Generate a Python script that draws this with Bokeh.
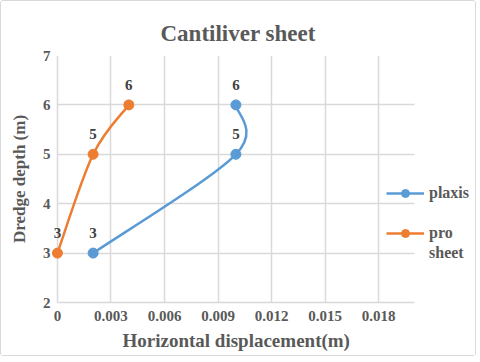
import numpy as np
from bokeh.plotting import figure
from bokeh.models import (FixedTicker, ColumnDataSource, LabelSet, Legend, LegendItem,
                          Range1d, CustomJSTickFormatter, Title)
from bokeh.embed import file_html
from bokeh.resources import INLINE

# Data
plaxis_x = [0.002, 0.010, 0.010]
plaxis_y = [3, 5, 6]
prosheet_x = [0.0, 0.002, 0.004]
prosheet_y = [3, 5, 6]
x_ticks = [0, 0.003, 0.006, 0.009, 0.012, 0.015, 0.018]
y_ticks = [2, 3, 4, 5, 6, 7]
x_axis_span = (0, 0.02)
series_names = ["plaxis", "pro sheet"]

BLUE = "#5B9BD5"
ORANGE = "#ED7D31"
GRID = "#D9D9D9"
TXT = "#595959"
FONT = "Liberation Serif"


def smooth_segments(xs, ys):
    """Excel-like smoothing: bezier control points from neighbouring data points."""
    n = len(xs)
    px = [xs[0]] + list(xs) + [xs[-1]]
    py = [ys[0]] + list(ys) + [ys[-1]]
    d = dict(x0=[], y0=[], x1=[], y1=[], cx0=[], cy0=[], cx1=[], cy1=[])
    for i in range(1, n):
        p0x, p0y = px[i - 1], py[i - 1]
        p1x, p1y = px[i], py[i]
        p2x, p2y = px[i + 1], py[i + 1]
        p3x, p3y = px[i + 2], py[i + 2]
        d["x0"].append(p1x); d["y0"].append(p1y)
        d["x1"].append(p2x); d["y1"].append(p2y)
        d["cx0"].append(p1x + (p2x - p0x) / 6); d["cy0"].append(p1y + (p2y - p0y) / 6)
        d["cx1"].append(p2x - (p3x - p1x) / 6); d["cy1"].append(p2y - (p3y - p1y) / 6)
    return d


p = figure(output_backend="svg", toolbar_location=None,
           x_range=Range1d(-0.0005, 0.0232), y_range=Range1d(2, 7),
           frame_width=423, frame_height=247,
           min_border_left=47, min_border_right=4, min_border_top=54, min_border_bottom=52)

p.title.text = "Cantiliver sheet"
p.title.align = "left"
p.title.text_font = FONT
p.title.text_font_size = "23px"
p.title.text_font_style = "bold"
p.title.text_color = TXT
p.title.offset = 112
p.title.standoff = 19

p.outline_line_color = None
p.background_fill_color = "white"
p.border_fill_color = "white"
p.styles = {"border": "1px solid #D9D9D9", "border-radius": "3px"}

for ax in (p.xaxis[0], p.yaxis[0]):
    ax.major_tick_line_color = None
    ax.minor_tick_line_color = None
    ax.major_label_text_font = FONT
    ax.major_label_text_font_size = "15px"
    ax.major_label_text_font_style = "bold"
    ax.major_label_text_color = TXT
    ax.axis_label_text_font = FONT
    ax.axis_label_text_font_style = "bold"
    ax.axis_label_text_color = TXT

p.yaxis.axis_label_text_font_size = "17px"
p.xaxis.axis_line_color = GRID
p.xaxis.axis_line_width = 1.5
p.xaxis.bounds = x_axis_span
p.yaxis.axis_line_color = None

p.xaxis.ticker = FixedTicker(ticks=x_ticks)
p.yaxis.ticker = FixedTicker(ticks=y_ticks)
p.xaxis.formatter = CustomJSTickFormatter(code="return tick === 0 ? '0' : tick.toFixed(3);")
p.xaxis.major_label_standoff = 2
p.yaxis.major_label_standoff = -8
p.yaxis.axis_label = "Dredge depth (m)"
p.yaxis.axis_label_standoff = 11

xlabel = Title(text="Horizontal displacement(m)", align="left", offset=74,
               text_font=FONT, text_font_size="19px", text_font_style="bold",
               text_color=TXT, standoff=9)
p.add_layout(xlabel, "below")

p.xgrid.grid_line_color = GRID
p.ygrid.grid_line_color = GRID
p.xgrid.grid_line_width = 1.5
p.ygrid.grid_line_width = 1.5
p.ygrid.cross_bounds = x_axis_span

for xs, ys, color in [(plaxis_x, plaxis_y, BLUE), (prosheet_x, prosheet_y, ORANGE)]:
    seg = smooth_segments(xs, ys)
    p.bezier(x0="x0", y0="y0", x1="x1", y1="y1", cx0="cx0", cy0="cy0", cx1="cx1", cy1="cy1",
             source=ColumnDataSource(seg), line_color=color, line_width=2.5)
    src = ColumnDataSource(dict(x=xs, y=ys, lab=[str(v) for v in ys]))
    p.scatter("x", "y", source=src, size=10, fill_color=color, line_color=color)
    p.add_layout(LabelSet(x="x", y="y", text="lab", source=src, y_offset=20,
                          text_align="center", text_baseline="middle",
                          text_font=FONT, text_font_size="15px", text_font_style="bold",
                          text_color="#404040"))


def proxy(color, visible=True):
    a = 1 if visible else 0
    l = p.line([np.nan], [np.nan], line_color=color, line_width=2.5, line_alpha=a)
    s = p.scatter([np.nan], [np.nan], size=10, fill_color=color, line_color=color,
                  fill_alpha=a, line_alpha=a)
    return [l, s]


legend_style = dict(background_fill_alpha=0, border_line_color=None,
                    label_text_font=FONT, label_text_font_size="16px",
                    label_text_font_style="bold", label_text_color=TXT,
                    glyph_width=38, glyph_height=20, label_height=20,
                    label_standoff=5, spacing=0, padding=0, margin=0)

# "plaxis"
leg1 = Legend(items=[LegendItem(label=series_names[0], renderers=proxy(BLUE))],
              location=(338, 99), **legend_style)
# "pro sheet" wrapped on two lines, marker beside first line
first, second = series_names[1].split(" ")
leg2 = Legend(items=[LegendItem(label=first, renderers=proxy(ORANGE)),
                     LegendItem(label=second, renderers=proxy("white", visible=False))],
              location=(338, 39), **legend_style)
p.add_layout(leg1, "center")
p.add_layout(leg2, "center")

open("out.html", "w").write(file_html(p, INLINE))
